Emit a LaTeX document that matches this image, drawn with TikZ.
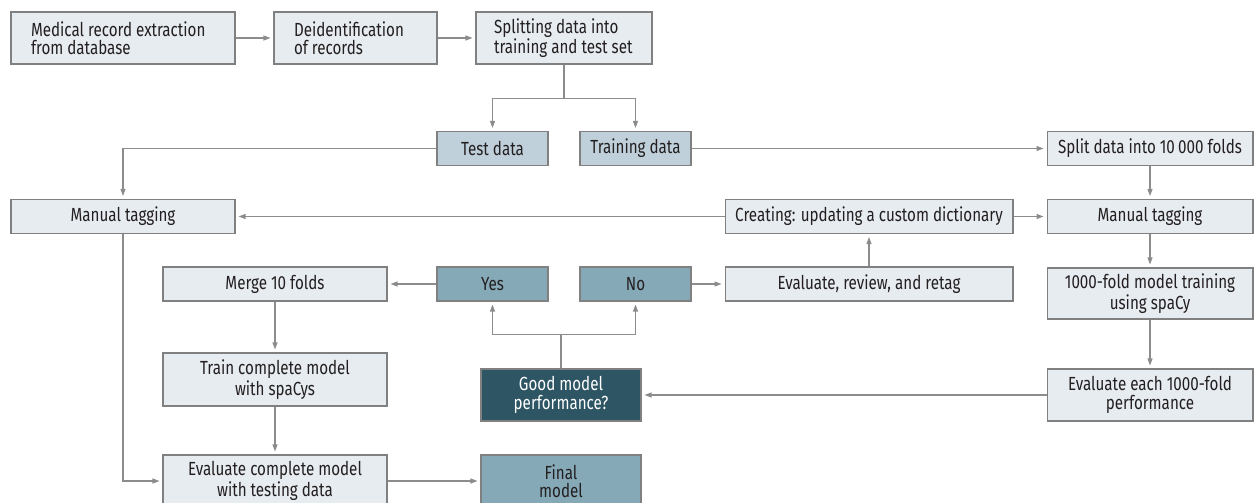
\documentclass[tikz,border=0pt]{standalone}
\usepackage{fontspec}
\setmainfont{Fira Sans}[FakeStretch=0.8]
\usetikzlibrary{arrows.meta}
\definecolor{boxFill}{RGB}{231,236,240}
\definecolor{dataFill}{RGB}{191,208,218}
\definecolor{answerFill}{RGB}{134,169,184}
\definecolor{queryFill}{RGB}{46,85,99}
\definecolor{boxLine}{RGB}{128,128,128}
\definecolor{flowLine}{RGB}{140,140,140}
\definecolor{inkText}{RGB}{35,31,32}
\tikzset{
  proc/.style={rectangle, draw=boxLine, fill=boxFill, line width=0.6pt, text=inkText,
               minimum height=0.68cm, inner sep=0pt, align=center,
               font=\fontsize{10.8}{10.4}\selectfont},
  lead/.style={proc, align=flush left, inner xsep=0.4cm, minimum height=1.04cm},
  datum/.style={proc, fill=dataFill},
  answer/.style={proc, fill=answerFill},
  query/.style={proc, fill=queryFill, text=white},
  flow/.style={-{Triangle[length=1.4mm, width=1mm]}, draw=flowLine, line width=0.6pt, shorten >=0.6mm},
  wire/.style={draw=flowLine, line width=0.6pt},
}

\begin{document}
\begin{tikzpicture}[x=0.02cm, y=-0.02cm]
  \useasboundingbox (0,0) rectangle (1254,503);

  % top row
  \node[lead, text width=3.68cm] (extract) at (123,38) {Medical record extraction\\from database};
  \node[lead, text width=2.46cm] (deident) at (355.5,38) {Deidentification\\of records};
  \node[lead, inner xsep=0.36cm, text width=2.8cm] (splitSet) at (564,38) {Splitting data into\\training and test set};

  % data sets
  \node[datum, minimum width=2.22cm] (testData) at (492.5,148.5) {Test data};
  \node[datum, minimum width=2.22cm] (trainData) at (635.5,148.5) {Training data};
  \node[proc, minimum width=4.12cm] (splitFolds) at (1150,148.5) {Split data into 10\,000 folds};

  \node[proc, minimum width=4.48cm] (tagTest) at (123,216.5) {Manual tagging};
  \node[proc, minimum width=5.76cm] (dictionary) at (869,216.5) {Creating: updating a custom dictionary};
  \node[proc, minimum width=4.12cm] (tagTrain) at (1150,216.5) {Manual tagging};

  \node[proc, minimum width=4.48cm] (merge) at (275,284) {Merge 10 folds};
  \node[answer, minimum width=2.22cm] (yes) at (492.5,284) {Yes};
  \node[answer, minimum width=2.22cm] (no) at (635.5,284) {No};
  \node[proc, minimum width=5.76cm] (review) at (869,284) {Evaluate, review, and retag};
  \node[proc, minimum width=4.12cm, minimum height=1.02cm] (foldTrain) at (1150,293.5) {1000-fold model training\\using spaCy};

  \node[proc, minimum width=4.48cm, minimum height=1.06cm] (trainFull) at (275,379.5) {Train complete model\\with spaCys};
  \node[query, minimum width=3.2cm, minimum height=1.04cm] (goodPerf) at (561,395) {Good model\\performance?};
  \node[proc, minimum width=4.12cm, minimum height=1.04cm] (foldEval) at (1150,395) {Evaluate each 1000-fold\\performance};

  \node[proc, minimum width=4.48cm, minimum height=1.04cm] (evalFull) at (275,481) {Evaluate complete model\\with testing data};
  \node[answer, minimum width=3.2cm, minimum height=1.04cm] (final) at (561,481) {Final\\model};

  % connectors
  \draw[flow] (extract) -- (deident);
  \draw[flow] (deident) -- (splitSet);
  \draw[wire] (splitSet.south) -- ++(0,34) coordinate (splitFork);
  \draw[flow] (splitFork) -| (testData);
  \draw[flow] (splitFork) -| (trainData);
  \draw[flow] (testData) -| (tagTest);
  \draw[flow] (trainData) -- (splitFolds);
  \draw[flow] (splitFolds) -- (tagTrain);
  \draw[flow] (tagTrain) -- (foldTrain);
  \draw[flow] (foldTrain) -- (foldEval);
  \draw[flow] (foldEval) -- (goodPerf);
  \draw[wire] (goodPerf.north) -- ++(0,-34) coordinate (perfFork);
  \draw[flow] (perfFork) -| (yes);
  \draw[flow] (perfFork) -| (no);
  \draw[flow] (yes) -- (merge);
  \draw[flow] (no) -- (review);
  \draw[flow] (review) -- (dictionary);
  \draw[flow] (dictionary) -- (tagTest);
  \draw[flow] (dictionary) -- (tagTrain);
  \draw[flow] (merge) -- (trainFull);
  \draw[flow] (trainFull) -- (evalFull);
  \draw[flow] (tagTest) |- (evalFull);
  \draw[flow] (evalFull) -- (final);
\end{tikzpicture}
\end{document}
